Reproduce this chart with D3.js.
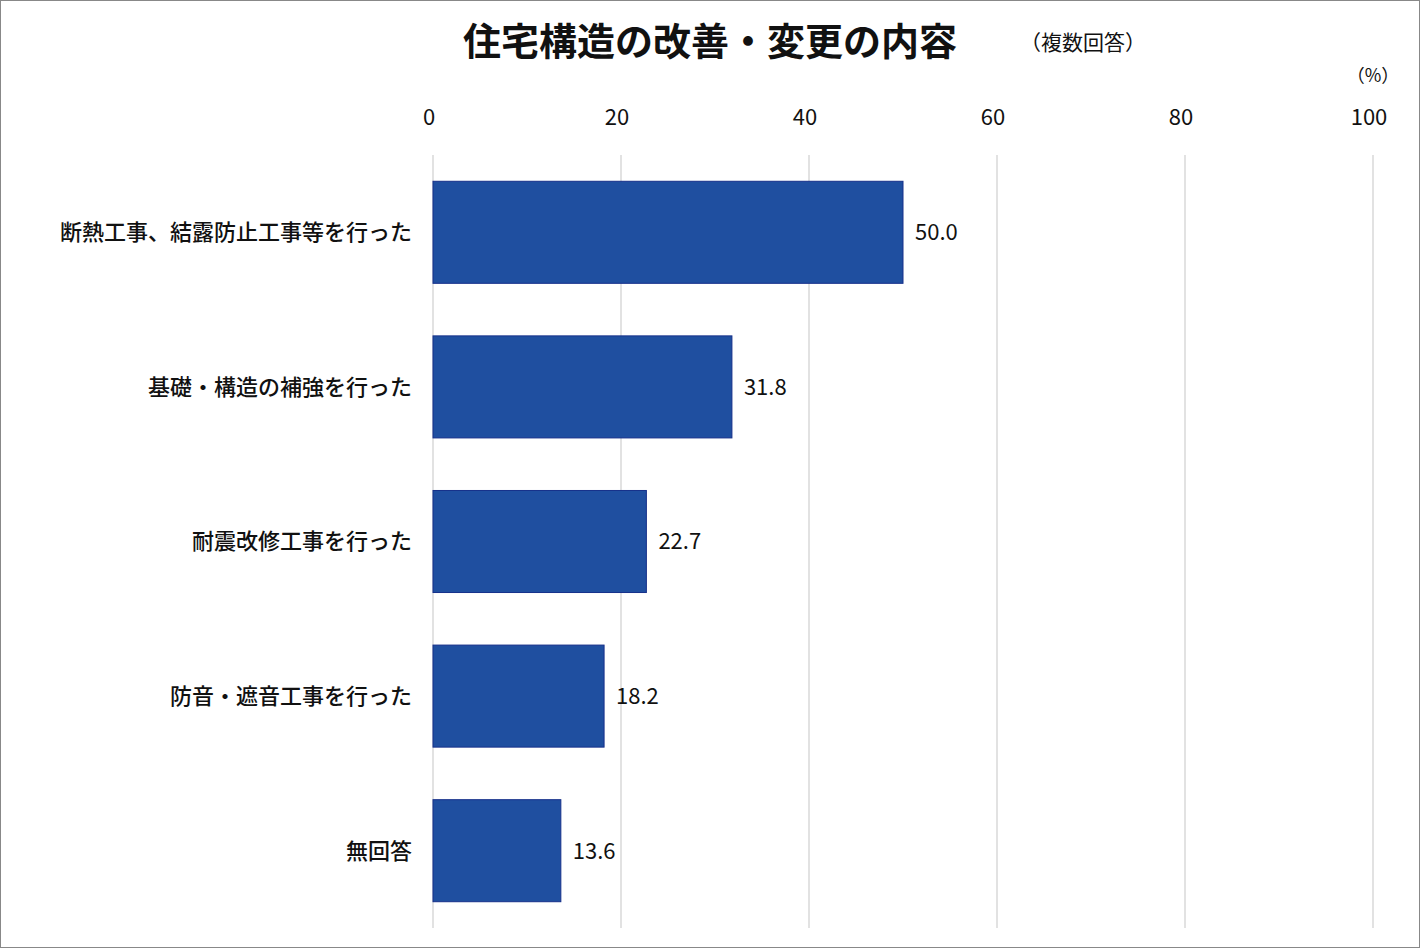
<!DOCTYPE html>
<meta charset="utf-8">
<style>
body { margin: 0; background: #fff; }
svg { display: block; font-family: "Noto Sans CJK JP", "Noto Sans", sans-serif; }
</style>
<svg width="1420" height="948"></svg>
<script src="https://d3js.org/d3.v7.min.js"></script>
<script>

var categories = ["断熱工事、結露防止工事等を行った", "基礎・構造の補強を行った", "耐震改修工事を行った", "防音・遮音工事を行った", "無回答"],
    values = [50.0, 31.8, 22.7, 18.2, 13.6],
    ticks = [0, 20, 40, 60, 80, 100];

var svg = d3.select("svg");

svg.append("rect")
    .attr("x", 0.5).attr("y", 0.5)
    .attr("width", 1419).attr("height", 947)
    .attr("fill", "#fff").attr("stroke", "#888");

var x = d3.scaleLinear().domain([0, 100]).range([433, 1373]);
var y = d3.scaleBand().domain(categories).range([155, 928]).paddingInner(0.34).paddingOuter(0.17);

// grid
svg.selectAll(".grid").data(ticks).enter().append("line")
    .attr("x1", function(d) { return x(d); }).attr("x2", function(d) { return x(d); })
    .attr("y1", 155).attr("y2", 928)
    .attr("stroke", "#d9d9d9").attr("stroke-width", 1.5);

svg.selectAll(".tick").data(ticks).enter().append("text")
    .attr("x", function(d) { return x(d) - 4; })
    .attr("y", 125)
    .attr("text-anchor", "middle")
    .attr("font-size", 22)
    .attr("fill", "#111")
    .text(function(d) { return d; });

// bars
svg.selectAll(".bar").data(values).enter().append("rect")
    .attr("x", x(0))
    .attr("y", function(d, i) { return y(categories[i]); })
    .attr("width", function(d) { return x(d) - x(0); })
    .attr("height", y.bandwidth())
    .attr("fill", "#1f4fa0")
    .attr("stroke", "#16308a").attr("stroke-width", 1);

svg.selectAll(".val").data(values).enter().append("text")
    .attr("x", function(d) { return x(d) + 12; })
    .attr("y", function(d, i) { return y(categories[i]) + y.bandwidth() / 2; })
    .attr("dy", "0.36em")
    .attr("font-size", 22)
    .attr("fill", "#111")
    .text(function(d) { return d.toFixed(1); });

svg.selectAll(".cat").data(categories).enter().append("text")
    .attr("x", 412)
    .attr("y", function(d) { return y(d) + y.bandwidth() / 2; })
    .attr("dy", "0.36em")
    .attr("text-anchor", "end")
    .attr("font-size", 22)
    .attr("font-weight", 500)
    .attr("fill", "#111")
    .text(function(d) { return d; });

// titles
svg.append("text")
    .attr("x", 710).attr("y", 55)
    .attr("text-anchor", "middle")
    .attr("font-size", 38).attr("font-weight", "bold")
    .attr("fill", "#111")
    .text("住宅構造の改善・変更の内容");

svg.append("text")
    .attr("x", 1020).attr("y", 50)
    .attr("font-size", 21)
    .attr("fill", "#111")
    .text("（複数回答）");

svg.append("text")
    .attr("x", 1373).attr("y", 82)
    .attr("text-anchor", "middle")
    .attr("font-size", 18)
    .attr("fill", "#111")
    .text("（%）");

</script>
